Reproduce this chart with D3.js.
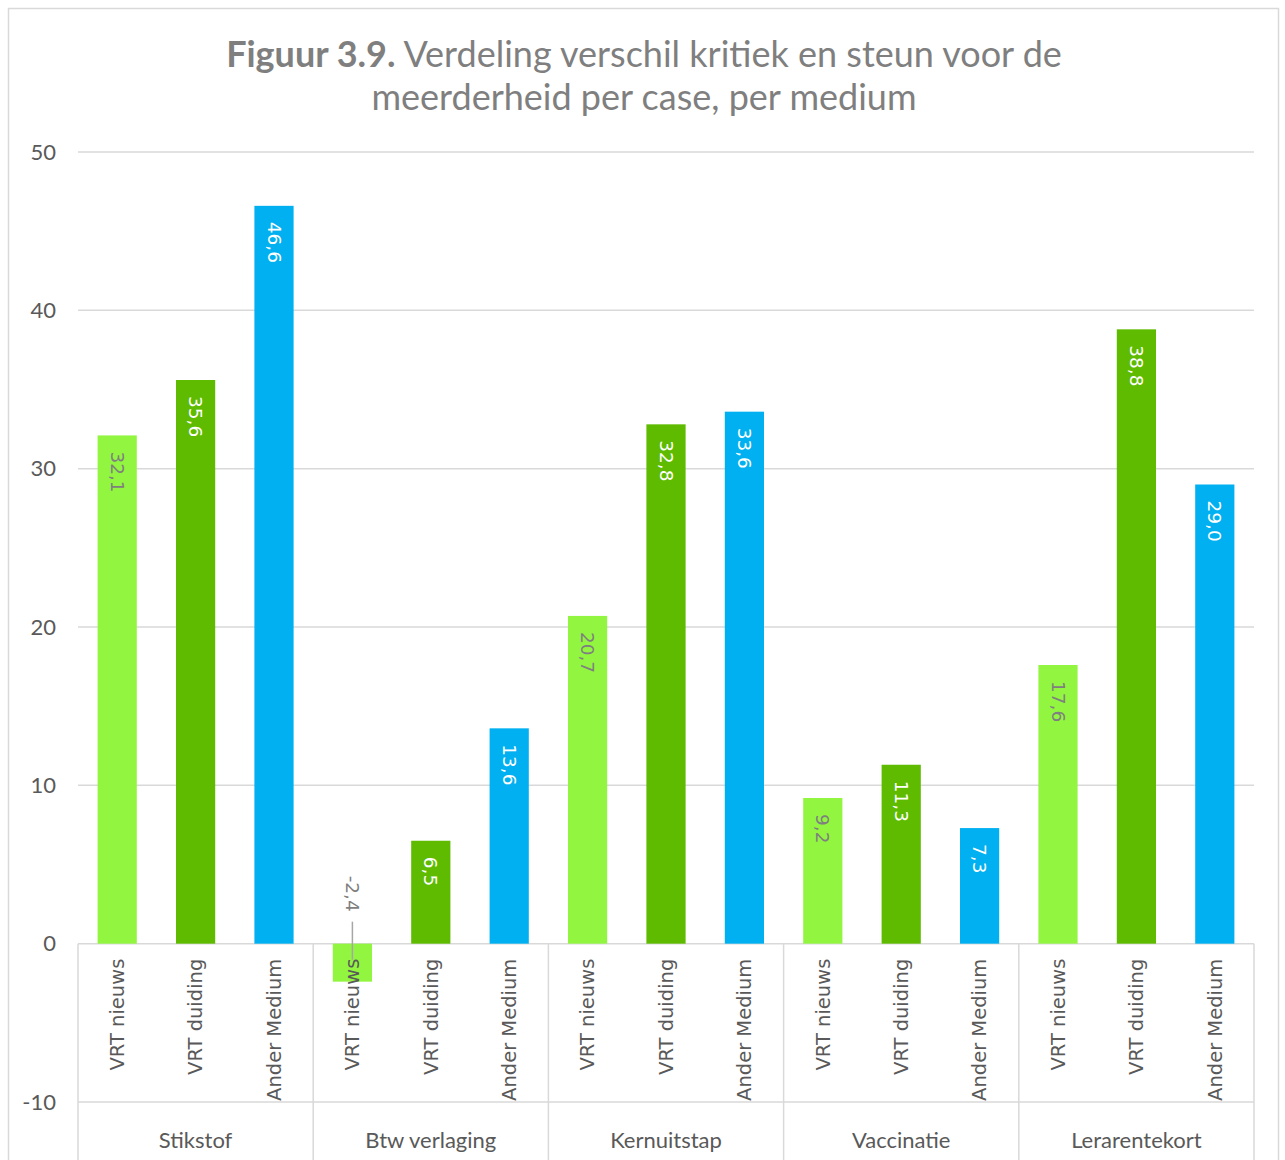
<!DOCTYPE html>
<html>
<head>
<meta charset="utf-8">
<script src="https://cdn.jsdelivr.net/npm/d3@7"></script>
<style>
  body { margin: 0; background: #fff; }
</style>
</head>
<body>
<div class="canvas"></div>
<script>
// data
const cases = ["Stikstof", "Btw verlaging", "Kernuitstap", "Vaccinatie", "Lerarentekort"];
const media = ["VRT nieuws", "VRT duiding", "Ander Medium"];
const vrtNieuws = [32.1, -2.4, 20.7, 9.2, 17.6];
const vrtDuiding = [35.6, 6.5, 32.8, 11.3, 38.8];
const anderMedium = [46.6, 13.6, 33.6, 7.3, 29.0];
const yTicks = [-10, 0, 10, 20, 30, 40, 50];

const seriesValues = [vrtNieuws, vrtDuiding, anderMedium];
const colors = ["#92f641", "#5ebb00", "#00b0f0"];
const labelColors = ["#7f7f7f", "#ffffff", "#ffffff"];

const calibri = "Lato, 'Open Sans', sans-serif";
const verdana = "'DejaVu Sans', Verdana, sans-serif";

const dims = { width: 1285, height: 1160 };
const plot = { left: 78, right: 1254, top: 152, bottom: 1102 };

const svg = d3.select(".canvas")
  .append("svg")
  .attr("width", dims.width)
  .attr("height", dims.height);

// chart border
svg.append("rect")
  .attr("x", 8.5).attr("y", 8.5)
  .attr("width", 1270).attr("height", 1180)
  .attr("fill", "#fff")
  .attr("stroke", "#d9d9d9").attr("stroke-width", 1.5);

// title
const title = svg.append("text")
  .attr("text-anchor", "middle")
  .attr("fill", "#7f7f7f")
  .attr("font-family", calibri)
  .attr("font-size", 36);
const t1 = title.append("tspan").attr("x", 644).attr("y", 67);
t1.append("tspan").attr("font-weight", "bold").text("Figuur 3.9.");
t1.append("tspan").text(" Verdeling verschil kritiek en steun voor de");
title.append("tspan").attr("x", 644).attr("y", 110).text("meerderheid per case, per medium");

// scales
const y = d3.scaleLinear().domain([-10, 50]).range([plot.bottom, plot.top]);
const x0 = d3.scaleBand().domain(cases).range([plot.left, plot.right]).padding(0);
const x1 = d3.scaleBand().domain(media).range([0, x0.bandwidth()])
  .paddingInner(0.5).paddingOuter(0.25);

// gridlines
svg.append("g")
  .selectAll("line")
  .data(yTicks)
  .join("line")
  .attr("x1", plot.left).attr("x2", plot.right)
  .attr("y1", d => y(d)).attr("y2", d => y(d))
  .attr("stroke", "#d9d9d9").attr("stroke-width", 1.5);

// y tick labels
svg.append("g")
  .selectAll("text")
  .data(yTicks)
  .join("text")
  .attr("x", 56).attr("y", d => y(d))
  .attr("dy", "0.35em")
  .attr("text-anchor", "end")
  .attr("fill", "#595959")
  .attr("font-family", calibri)
  .attr("font-size", 22)
  .text(d => d);

// group separators (category axis)
const bounds = cases.map(c => x0(c)).concat([plot.right]);
svg.append("g")
  .selectAll("line")
  .data(bounds)
  .join("line")
  .attr("x1", d => d).attr("x2", d => d)
  .attr("y1", y(0)).attr("y2", 1160)
  .attr("stroke", "#d9d9d9").attr("stroke-width", 1.5);

// bars
const rows = [];
cases.forEach((c, i) => {
  media.forEach((m, j) => {
    rows.push({ cas: c, medium: m, s: j, value: seriesValues[j][i] });
  });
});

svg.append("g")
  .selectAll("rect")
  .data(rows)
  .join("rect")
  .attr("x", d => x0(d.cas) + x1(d.medium))
  .attr("width", x1.bandwidth())
  .attr("y", d => y(Math.max(0, d.value)))
  .attr("height", d => Math.abs(y(d.value) - y(0)))
  .attr("fill", d => colors[d.s]);

const fmt = v => v.toFixed(1).replace(".", ",");

// value labels
rows.forEach(d => {
  const cx = x0(d.cas) + x1(d.medium) + x1.bandwidth() / 2;
  if (d.value >= 0) {
    svg.append("text")
      .attr("transform", `translate(${cx},${y(d.value) + 16}) rotate(90)`)
      .attr("dy", "0.35em")
      .attr("fill", labelColors[d.s])
      .attr("font-family", verdana)
      .attr("font-size", 18.5)
      .text(fmt(d.value));
  } else {
    // label above the zero line, leader line down into the bar
    svg.append("text")
      .attr("transform", `translate(${cx},${y(0) - 68}) rotate(90)`)
      .attr("dy", "0.35em")
      .attr("fill", "#7f7f7f")
      .attr("font-family", verdana)
      .attr("font-size", 18.5)
      .text(fmt(d.value));
    svg.append("line")
      .attr("x1", cx).attr("x2", cx)
      .attr("y1", y(0) - 22).attr("y2", y(d.value) - 22)
      .attr("stroke", "#a6a6a6").attr("stroke-width", 1.5);
  }
});

// category labels (media)
svg.append("g")
  .selectAll("text")
  .data(rows)
  .join("text")
  .attr("transform", d => `translate(${x0(d.cas) + x1(d.medium) + x1.bandwidth() / 2},${y(0) + 15}) rotate(-90)`)
  .attr("dy", "0.35em")
  .attr("text-anchor", "end")
  .attr("fill", "#595959")
  .attr("font-family", verdana)
  .attr("font-size", 19.5)
  .text(d => d.medium);

// group labels (cases)
svg.append("g")
  .selectAll("text")
  .data(cases)
  .join("text")
  .attr("x", d => x0(d) + x0.bandwidth() / 2)
  .attr("y", 1140)
  .attr("dy", "0.35em")
  .attr("text-anchor", "middle")
  .attr("fill", "#595959")
  .attr("font-family", calibri)
  .attr("font-size", 22)
  .text(d => d);
</script>
</body>
</html>
